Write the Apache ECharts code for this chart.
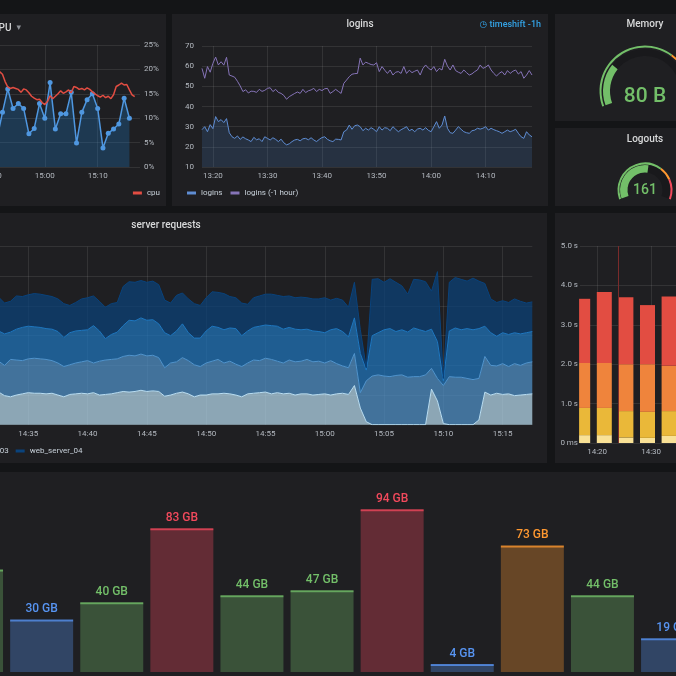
<!DOCTYPE html>
<html><head><meta charset="utf-8">
<script src="https://cdn.jsdelivr.net/npm/echarts@6/dist/echarts.min.js"></script>
<style>
html,body{margin:0;padding:0;width:676px;height:676px;overflow:hidden;background:#141517;}
.panel{position:absolute;background:#1f1f22;}
</style></head><body>
<div id="cpu" class="panel" style="left:-162px;top:14px;width:328px;height:192px"></div>
<div id="logins" class="panel" style="left:172px;top:14px;width:376px;height:192px"></div>
<div id="memory" class="panel" style="left:555px;top:14px;width:180px;height:107px"></div>
<div id="logouts" class="panel" style="left:555px;top:128px;width:180px;height:78px"></div>
<div id="server" class="panel" style="left:-215px;top:213px;width:762px;height:250px"></div>
<div id="latency" class="panel" style="left:555px;top:213px;width:200px;height:250px"></div>
<div id="disks" class="panel" style="left:-70px;top:472px;width:785px;height:300px"></div>
<script>
// ---------------- DATA ----------------
// CPU panel
const cpuAxisStart = '14:40:00', cpuAxisEnd = '15:18:00';
const cpuStart = '14:51:00';
const cpuValues = [19.8,19.5,19.0,17.5,16.4,16.1,16.3,16.1,15.9,15.3,16.0,15.8,15.2,14.5,14.1,13.8,13.9,13.2,12.8,13.4,14.6,14.0,14.5,15.0,15.6,15.1,15.4,15.8,15.2,16.5,16.3,15.9,16.1,15.8,16.2,15.9,15.4,15.0,14.6,14.3,14.7,14.2,14.5,14.0,14.8,16.5,16.8,17.2,16.8,16.9,15.8,14.8,14.4];
const cpuCoreValues = [6,11.2,16,12,13,12,6.8,7.9,13,10,17.3,7.8,10.9,10.9,15.3,4.9,11.2,13.8,15,12,3.9,6.9,7.8,8.8,14.1,10];

// logins panel
const loginsStart = '13:18:00', loginsEnd = '14:18:30';
const loginsValues = [28.5,30,27.5,31,29,35,32.5,33.5,32,34,
27,25,24.2,25.4,23.7,24.9,24,23.4,22.6,24.7,
23.5,24,22.6,25,24.2,23.4,24.5,23.7,22.6,23.8,
22,21,21.5,22.6,23.4,23.7,23,24,24.2,23.5,
24.5,23.4,22.6,23.7,24.6,25,23.7,23,22.6,23.8,
23.7,23.4,27.5,28.3,30.8,28.7,30.5,30.8,30,28,
29.2,28.3,29.5,28.7,27.5,30,28.3,29.5,29.2,28,
30,28.7,27.5,28.5,29.2,30,28,28.7,27.5,28.8,
29.2,28.3,29.5,28.2,27.5,30,32.5,29.2,30.8,35.3,
29.2,27,26.7,28.3,30,28.7,27.5,27,26.7,28,
28.3,29.2,28.8,29.2,30,28.3,29.2,28.5,28,27.5,
26.7,27.5,28.3,27.5,28,28.7,26.7,25,24.2,27.5,
25.9,25];
const loginsPrevValues = [58.9,54,59.8,57,61.4,64.5,60.6,62.2,60.5,64.4,
55.6,55.1,54.5,52.5,50.2,47.4,48.3,46.7,47.6,47.5,
47,48.5,47.5,48,49,49.3,47.4,48.5,47,46.5,
45.5,43.6,44.9,45.7,46.5,47.2,46.5,48.5,46.9,47.8,
48.2,49,47.4,48.5,47.9,48.8,49,46.5,47.4,48.5,
47.5,46.5,51.5,53.1,54.8,56,56.3,56.4,64,60.6,
62,61.4,60.8,60.6,61.7,57.3,59.8,58,56.4,58.1,
55.6,57,57.3,56.4,59.8,56.4,58,56.8,57.5,58.1,
55.6,58.9,60.6,59,58.1,59.8,57.3,58.9,58.1,63.4,
60,58.1,60.6,57.8,57,56.4,58.1,56.8,55.6,56.2,
57.3,58.1,60.6,58.9,59.5,60.6,58.1,56.4,55.1,56.5,
57.3,55.6,57.8,56.4,57.5,58.1,56.1,57.3,54,55.6,
57.8,55.6];

// gauges
const memoryValue = 80, logoutsValue = 161;
const gaugeMax = 300;
const gaugeThresholds = [200, 240];

// server requests
const serverStart = '14:32:00', serverEnd = '15:17:30';
const serverNames = ['web_server_01','web_server_02','web_server_03','web_server_04'];
const server01 = [55,55,49,47,50,52,54,53,53,52,53,50,47,51,52,53,52,54,50,51,52,54,56,55,56,58,56,57,56,48,50,53,55,52,47,50,50,52,52,53,52,50,47,52,53,54,55,52,54,52,53,50,52,52,50,51,52,50,52,53,51,66,28,5,0,0,0,0,0,0,0,0,0,0,60,40,2,0,0,0,0,0,8,55,50,53,51,52,49,50,51,52];
const server02 = [52,52,51,63,59,56,57,59,58,58,55,54,51,50,52,53,56,50,57,58,58,57,59,62,60,61,60,60,57,48,54,53,58,56,54,48,54,55,58,51,55,52,51,52,56,54,57,58,53,52,56,56,55,58,56,56,52,58,51,46,45,54,26,69,82,84,82,81,83,84,80,81,81,84,35,38,64,81,80,80,78,76,70,60,50,46,52,46,54,50,53,54];
const server03 = [54,51,53,46,52,56,55,53,53,52,53,53,49,54,54,53,52,63,51,36,42,45,52,59,59,61,60,60,57,59,46,52,57,47,45,48,54,59,54,56,56,60,52,54,55,58,56,57,59,57,55,55,53,51,52,50,51,52,59,58,52,60,66,18,68,71,78,81,74,76,76,82,79,73,66,62,8,77,83,80,84,84,84,51,55,50,52,54,52,53,51,51];
const server04 = [51,57,52,52,56,52,53,56,56,56,55,55,57,46,48,53,54,50,50,53,52,50,66,65,65,63,64,65,66,55,55,60,52,57,58,55,56,58,59,61,53,52,55,45,50,51,52,53,52,55,53,53,55,53,54,55,59,50,51,53,50,60,40,4,95,91,80,84,83,74,64,82,84,84,64,118,4,82,85,85,80,87,80,72,57,57,54,54,57,55,50,50];

// latency (stacked seconds)
const latAxisStart = '14:16:50', latAxisEnd = '14:47:20';
const latTimes = ['14:17:20','14:21:20','14:25:20','14:29:20','14:33:20'];
const latP1 = [0.20,0.20,0.14,0.13,0.18];
const latP2 = [0.69,0.69,0.67,0.66,0.63];
const latP3 = [1.14,1.14,1.19,1.21,1.15];
const latP4 = [1.63,1.80,1.70,1.50,1.76];
const latAnnotation = '14:23:50';

// disk usage bars (GB)
const diskNames = ['disk 1','disk 2','disk 3','disk 4','disk 5','disk 6','disk 7','disk 8','disk 9','disk 10','disk 11'];
const diskValues = [59,30,40,83,44,47,94,4,73,44,19];
const diskThresholdValues = [0,35,70,80];
const diskThresholdColors = ['#5794f2','#73bf69','#ff9830','#f2495c'];

// ---------------- HELPERS ----------------
const FONT = 'Roboto, "DejaVu Sans", sans-serif';
const TXT = '#c7d0d9', AX = '#b4b9c0', GRID = 'rgba(255,255,255,0.09)', TITLE = '#d8d9da';
function pad(n){return String(n).padStart(2,'0');}
function toSec(t){const p=t.split(':').map(Number);return p[0]*3600+p[1]*60+(p[2]||0);}
function fromSec(s){return pad(Math.floor(s/3600))+':'+pad(Math.floor(s%3600/60))+':'+pad(s%60);}
function timeSeq(a,b,step){const o=[];for(let s=toSec(a);s<=toSec(b);s+=step)o.push(fromSec(s));return o;}
function pairs(start,step,vals){const t0=toSec(start);return vals.map((v,i)=>[fromSec(t0+i*step),v]);}
function everyMin(n){return function(i,v){return v.slice(6)==='00' && (+v.slice(3,5))%n===0;};}
function hm(v){return v.slice(0,5);}
function hexA(h,a){const r=parseInt(h.slice(1,3),16),g=parseInt(h.slice(3,5),16),b=parseInt(h.slice(5,7),16);return 'rgba('+r+','+g+','+b+','+a+')';}
function thColor(v){let c=diskThresholdColors[0];diskThresholdValues.forEach((t,i)=>{if(v>=t)c=diskThresholdColors[i];});return c;}
function titleOpt(text,top){return {text:text,left:'center',top:top,padding:0,textStyle:{fontSize:10,fontWeight:500,color:TITLE,fontFamily:FONT}};}
function catX(data,n,margin){return {type:'category',boundaryGap:false,data:data,axisLine:{show:false},axisTick:{show:false},
  axisLabel:{interval:everyMin(n),formatter:hm,color:AX,fontSize:8,margin:margin,fontFamily:FONT},
  splitLine:{show:true,interval:everyMin(n),lineStyle:{color:GRID,width:1}}};}
function mk(id,opt){const c=echarts.init(document.getElementById(id));c.setOption(opt);}

// ---------------- CPU ----------------
mk('cpu',{
  animation:false,
  title:{text:'{t|CPU} {c|▾}',left:154,top:5,padding:0,textStyle:{rich:{t:{fontSize:10,fontWeight:500,color:TITLE,fontFamily:FONT},c:{fontSize:9,color:'#8e9196',fontFamily:FONT}}}},
  legend:{data:['cpu'],right:6,top:175,icon:'rect',itemWidth:9,itemHeight:3,padding:0,textStyle:{color:TXT,fontSize:8,fontFamily:FONT}},
  grid:{left:101,right:26,top:31,bottom:39},
  xAxis:catX(timeSeq(cpuAxisStart,cpuAxisEnd,30),10,5),
  yAxis:{type:'value',position:'right',min:0,max:25,interval:5,axisLine:{show:false},axisTick:{show:false},
    axisLabel:{formatter:'{value}%',color:AX,fontSize:8,margin:4,fontFamily:FONT},splitLine:{lineStyle:{color:GRID}}},
  series:[
    {name:'cpu core',type:'line',data:pairs(cpuStart,60,cpuCoreValues),symbol:'circle',symbolSize:5,showSymbol:true,showAllSymbol:true,
      lineStyle:{width:1.5,color:'#4f97e0'},itemStyle:{color:'#4f97e0'},areaStyle:{color:'#1f78c1',opacity:0.3},z:2},
    {name:'cpu',type:'line',data:pairs(cpuStart,30,cpuValues),showSymbol:false,lineStyle:{width:1.5,color:'#e24d42'},itemStyle:{color:'#e24d42'},z:3}
  ]
});

// ---------------- LOGINS ----------------
mk('logins',{
  animation:false,
  title:titleOpt('logins',5),
  graphic:[{type:'text',right:7,top:6,style:{text:'◷ timeshift -1h',fill:'#33a2e5',font:'500 9px '+FONT}}],
  legend:{data:['logins','logins (-1 hour)'],left:15,top:175,icon:'rect',itemWidth:9,itemHeight:3,itemGap:8,padding:0,textStyle:{color:TXT,fontSize:8,fontFamily:FONT}},
  grid:{left:30,right:16,top:32,bottom:39},
  xAxis:catX(timeSeq(loginsStart,loginsEnd,30),10,5),
  yAxis:{type:'value',min:10,max:70,interval:10,axisLine:{show:false},axisTick:{show:false},
    axisLabel:{color:AX,fontSize:8,margin:8,fontFamily:FONT},splitLine:{lineStyle:{color:GRID}}},
  series:[
    {name:'logins',type:'line',data:pairs(loginsStart,30,loginsValues),showSymbol:false,lineStyle:{width:1,color:'#5f8dd3'},itemStyle:{color:'#5f8dd3'},areaStyle:{color:'#447ebc',opacity:0.2}},
    {name:'logins (-1 hour)',type:'line',data:pairs(loginsStart,30,loginsPrevValues),showSymbol:false,lineStyle:{width:1,color:'#8674b8'},itemStyle:{color:'#8674b8'}}
  ]
});

// ---------------- GAUGES ----------------
function gaugeOpt(title,titleTop,value,unit,center,ringR,valR,valW,fontSize,offY){
  const stops=[[gaugeThresholds[0]/gaugeMax,'#73bf69'],[gaugeThresholds[1]/gaugeMax,'#ff9830'],[1,'#f2495c']];
  const base={type:'gauge',center:center,startAngle:200,endAngle:-20,min:0,max:gaugeMax,
    pointer:{show:false},anchor:{show:false},axisTick:{show:false},splitLine:{show:false},axisLabel:{show:false},title:{show:false}};
  return {animation:false,title:titleOpt(title,titleTop),series:[
    Object.assign({},base,{radius:ringR,axisLine:{lineStyle:{width:2,color:stops}},detail:{show:false},data:[{value:0}]}),
    Object.assign({},base,{radius:valR,axisLine:{lineStyle:{width:valW,color:[[1,'#19191c']]}},
      progress:{show:true,width:valW,itemStyle:{color:'#73bf69'}},
      detail:{valueAnimation:false,formatter:'{value}'+unit,offsetCenter:[0,offY],fontSize:fontSize,fontWeight:500,color:'#73bf69',fontFamily:FONT},
      data:[{value:value}]})
  ]};
}
mk('memory',gaugeOpt('Memory',5,memoryValue,' B',[90,77],45.5,42,7,21,6));
mk('logouts',gaugeOpt('Logouts',6,logoutsValue,'',[90,62],27.5,25,7.5,14,0));

// ---------------- SERVER REQUESTS ----------------
const serverColors = ['#badff4','#5195ce','#1f78c1','#0a437c'];
const serverData = [server01,server02,server03,server04];
mk('server',{
  animation:false,
  title:titleOpt('server requests',7),
  legend:{data:serverNames,left:9,top:234,icon:'rect',itemWidth:9,itemHeight:3,itemGap:7,padding:0,textStyle:{color:TXT,fontSize:8,fontFamily:FONT}},
  grid:{left:207.7,right:14.7,top:33.7,bottom:38.3},
  xAxis:catX(timeSeq(serverStart,serverEnd,30),5,5),
  yAxis:{type:'value',min:0,max:300,interval:50,axisLine:{show:false},axisTick:{show:false},
    axisLabel:{color:AX,fontSize:8,fontFamily:FONT},splitLine:{lineStyle:{color:GRID}}},
  series:serverNames.map((n,i)=>({name:n,type:'line',stack:'req',data:pairs(serverStart,30,serverData[i]),showSymbol:false,
    lineStyle:{width:1,color:serverColors[i]},itemStyle:{color:serverColors[i]},areaStyle:{color:serverColors[i],opacity:0.7}}))
});

// ---------------- LATENCY ----------------
const latColors = ['#f9e196','#eab839','#ef843c','#e24d42'];
const latParts = [latP1,latP2,latP3,latP4];
mk('latency',{
  animation:false,
  grid:{left:25,right:10.3,top:33,bottom:20},
  xAxis:catX(timeSeq(latAxisStart,latAxisEnd,10),10,5),
  yAxis:{type:'value',min:0,max:5,interval:1,axisLine:{show:false},axisTick:{show:false},
    axisLabel:{formatter:v=>v===0?'0 ms':v.toFixed(1)+' s',color:AX,fontSize:8,margin:2,fontFamily:FONT},splitLine:{lineStyle:{color:GRID}}},
  series:latParts.map((p,i)=>{
    const s={name:'p'+i,type:'bar',stack:'lat',barWidth:15,data:latTimes.map((t,j)=>[t,p[j]]),itemStyle:{color:latColors[i]}};
    if(i===0){s.markLine={silent:true,symbol:'none',label:{show:false},lineStyle:{color:'#7a2b2b',width:1,type:'solid'},data:[{xAxis:latAnnotation}]};}
    return s;
  })
});

// ---------------- DISKS ----------------
mk('disks',{
  animation:false,
  grid:{left:6.5,right:7.4,top:28,bottom:100},
  xAxis:{type:'category',data:diskNames,show:false},
  yAxis:{type:'value',min:0,max:100,show:false},
  series:[
    {type:'bar',barWidth:63,data:diskValues.map(v=>({value:v,itemStyle:{color:hexA(thColor(v),0.32)},label:{color:thColor(v)}})),
      label:{show:true,position:'top',distance:5,formatter:'{c} GB',fontSize:12,fontWeight:500,fontFamily:FONT}},
    {type:'scatter',symbol:'rect',symbolSize:[63,2],z:5,data:diskValues.map(v=>({value:v,itemStyle:{color:thColor(v)}}))}
  ]
});
</script>
</body></html>
